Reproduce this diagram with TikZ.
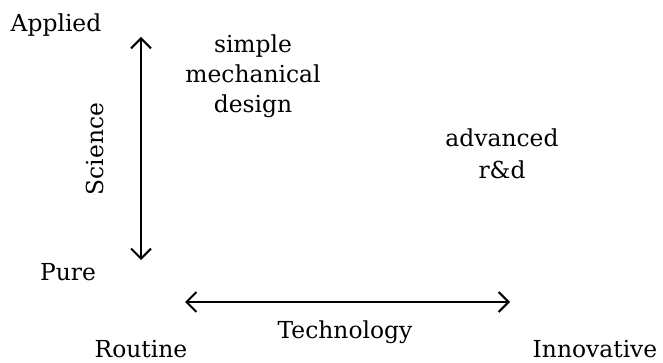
\documentclass[tikz,border=0pt]{standalone}
\usepackage{fontspec}
\setmainfont{DejaVu Serif}
\usetikzlibrary{arrows.meta}
\begin{document}
\begin{tikzpicture}[x=1pt,y=-1pt,
  lbl/.style={inner sep=0pt, font=\fontsize{23.4}{30}\selectfont, align=center},
  axis/.style={line width=2pt, {Straight Barb[length=10pt,width=20pt]}-{Straight Barb[length=10pt,width=20pt]}}]
\useasboundingbox (0,0) rectangle (663,363);
\node[lbl, anchor=base] (applied) at (56,31.5) {Applied};
\node[lbl, anchor=base] (pure) at (68,280.5) {Pure};
\node[lbl, anchor=base] (routine) at (141,357) {Routine};
\node[lbl, anchor=base] (innov) at (595,357) {Innovative};
\node[lbl, rotate=90] (sci) at (95,149) {Science};
\node[lbl, anchor=base] (tech) at (345,338) {Technology};
\node[lbl, anchor=base] (smd) at (253,113) {simple\\mechanical\\design};
\node[lbl, anchor=base, font=\fontsize{23.4}{32}\selectfont] (ard) at (502,179) {advanced\\r\&d};
\coordinate (vtop) at (141,37);
\coordinate (vbot) at (141,260);
\coordinate (hl) at (185,302);
\coordinate (hr) at (510,302);
\draw[axis] (vtop) -- (vbot);
\draw[axis] (hl) -- (hr);
\end{tikzpicture}
\end{document}
